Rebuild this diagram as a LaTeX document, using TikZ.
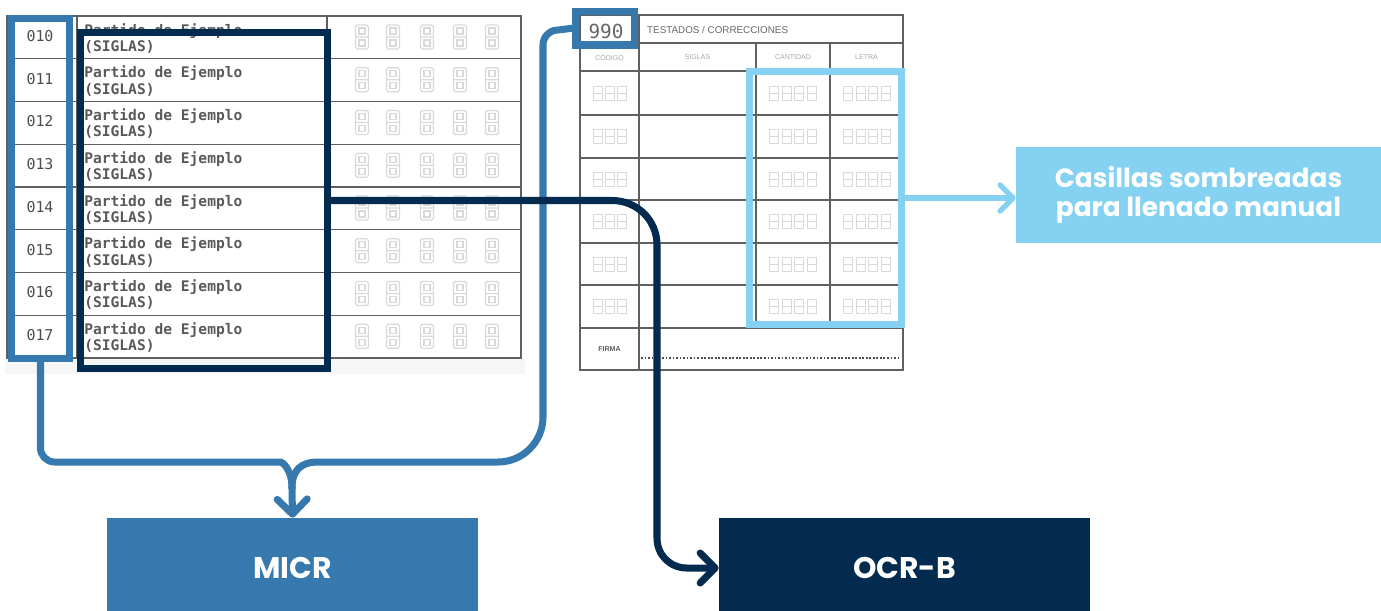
\documentclass[tikz,border=0pt]{standalone}
\usepackage{fontspec}
\setmainfont{Poppins}
\newfontfamily\formmono{DejaVu Sans Mono}
\newfontfamily\formsans{Liberation Sans}
\usepackage{tikz}
\usetikzlibrary{arrows.meta, positioning, calc}

\definecolor{micrblue}{HTML}{3579AE}
\definecolor{ocrnavy}{HTML}{032A4F}
\definecolor{manualblue}{HTML}{84D1F1}

\tikzset{
  formline/.style={draw=gray!75!black, line width=0.8pt},
  segline/.style={draw=gray!30, line width=0.7pt},
  smallseg/.style={draw=gray!30, line width=0.5pt},
  hilite/.style={draw=#1, line width=4pt, inner sep=0pt, fill=none},
  tagbox/.style={fill=#1, draw=none, inner sep=0pt, text=white, font=\bfseries\fontsize{17}{20}\selectfont},
  flowline/.style={draw=#1, line width=4pt, line cap=round, line join=round},
  chevron/.style={-{Straight Barb[length=3mm, width=6mm, round]}},
  bigeight/.pic={\draw[segline, rounded corners=1pt] (-6.5,-12) rectangle (6.5,12) (-6.5,0) -- (6.5,0);
                 \draw[segline] (-3,-9) rectangle (3,-3) (-3,3) rectangle (3,9);},
  smalleight/.pic={\draw[smallseg] (-4.5,-7) rectangle (4.5,7) (-4.5,0) -- (4.5,0);}
}

\begin{document}
\begin{tikzpicture}[x=0.02cm, y=-0.02cm]
\useasboundingbox (0,0) rectangle (1381,610);

% left form: results per party
\fill[gray!7] (5,358) rectangle (525,374);
\draw[formline] (7,16) rectangle (521,358);
\draw[formline] (77,16) -- (77,358) (327,16) -- (327,358);
\foreach \i in {0,...,7} {
  \pgfmathsetmacro{\rowy}{16+42.75*\i}
  \draw[formline] (7,\rowy) -- (521,\rowy);
  \node[text=gray!60!black, font=\formmono\fontsize{8.5}{10}\selectfont] (code\i) at (40,\rowy+20) {01\i};
  \node[anchor=north west, align=left, inner sep=0pt, text=gray!70!black, font=\formmono\bfseries\fontsize{8.3}{9.2}\selectfont] (party\i) at (84,\rowy+7) {Partido de Ejemplo\\(SIGLAS)};
  \foreach \dx in {362,393,427,460,492}
    \pic at (\dx,\rowy+21) {bigeight};
}

% right form: corrections
\draw[formline] (580,15) rectangle (903,370);
\foreach \ry in {43,71,115,158,200,243,285,328}
  \draw[formline] (580,\ry) -- (903,\ry);
\draw[formline] (639,15) -- (639,370) (756,43) -- (756,328) (830,43) -- (830,328);
\node[text=gray!80!black, font=\formmono\fontsize{11}{12}\selectfont] (ten) at (606,31) {990};
\node[anchor=west, text=gray!80!black, font=\formsans\fontsize{5.6}{6}\selectfont] (title) at (641,30) {TESTADOS / CORRECCIONES};
\node[text=gray!70, font=\formsans\fontsize{4}{5}\selectfont] (hcode) at (609.5,57) {CÓDIGO};
\node[text=gray!70, font=\formsans\fontsize{4}{5}\selectfont] (hsig) at (697.5,57) {SIGLAS};
\node[text=gray!70, font=\formsans\fontsize{4}{5}\selectfont] (hcant) at (793,57) {CANTIDAD};
\node[text=gray!70, font=\formsans\fontsize{4}{5}\selectfont] (hlet) at (866.5,57) {LETRA};
\foreach \cy in {93,136.5,179,221.5,264,306.5} {
  \foreach \dx in {598,610,622,774,786.5,799,811.5,848,860.5,873,885.5}
    \pic at (\dx,\cy) {smalleight};
}
\node[text=gray!70!black, font=\formsans\bfseries\fontsize{4}{5}\selectfont] (sign) at (609.5,349) {FIRMA};
\draw[gray!60!black, line width=1pt, dash pattern=on 1pt off 1pt] (641,358) -- (900,358);

% highlight boxes
\node[hilite=micrblue, minimum width=1.16cm, minimum height=6.8cm] (codes) at (40.5,188.5) {};
\node[hilite=ocrnavy, minimum width=4.96cm, minimum height=6.74cm] (fields) at (204,200.5) {};
\node[hilite=micrblue, minimum width=1.18cm, minimum height=0.67cm] (tenbox) at (605,28.25) {};
\node[hilite=manualblue, minimum width=3.04cm, minimum height=5.06cm] (manual) at (825.5,198) {};

% target boxes
\node[tagbox=micrblue, minimum width=7.42cm, minimum height=2cm] (micr) at (292.5,568) {MICR};
\node[tagbox=ocrnavy, minimum width=7.42cm, minimum height=2cm] (ocr) at (904.5,568) {OCR-B};
\node[tagbox=manualblue, minimum width=7.3cm, minimum height=1.92cm, align=center, font=\bfseries\fontsize{15}{17}\selectfont] (shade) at (1198.5,195) {Casillas sombreadas\\para llenado manual};

% connectors
\coordinate (merge) at (292,488);
\draw[flowline=micrblue, rounded corners=8] (codes.south) |- (266,462) [sharp corners] .. controls (283,462) and (292,470) .. (merge);
\draw[flowline=micrblue] (tenbox.west) -- (558,30) .. controls (549.7,30) and (543,36.7) .. (543,45) -- (543,417) .. controls (543,441.8) and (522.8,462) .. (498,462) -- (318,462) .. controls (301,462) and (292,470) .. (merge);
\draw[flowline=micrblue, chevron] (merge) -- (micr.north);
\draw[flowline=ocrnavy, chevron] (fields.east) -- (612,200.5) .. controls (637,200.5) and (657,220) .. (657,245) -- (657,538) .. controls (657,555) and (670,568) .. (687,568) -- (ocr.west);
\draw[flowline=manualblue, line width=3pt, -{Straight Barb[length=2.6mm, width=5.2mm, round]}] (manual.east) -- (shade.west |- manual.east);
\end{tikzpicture}
\end{document}
